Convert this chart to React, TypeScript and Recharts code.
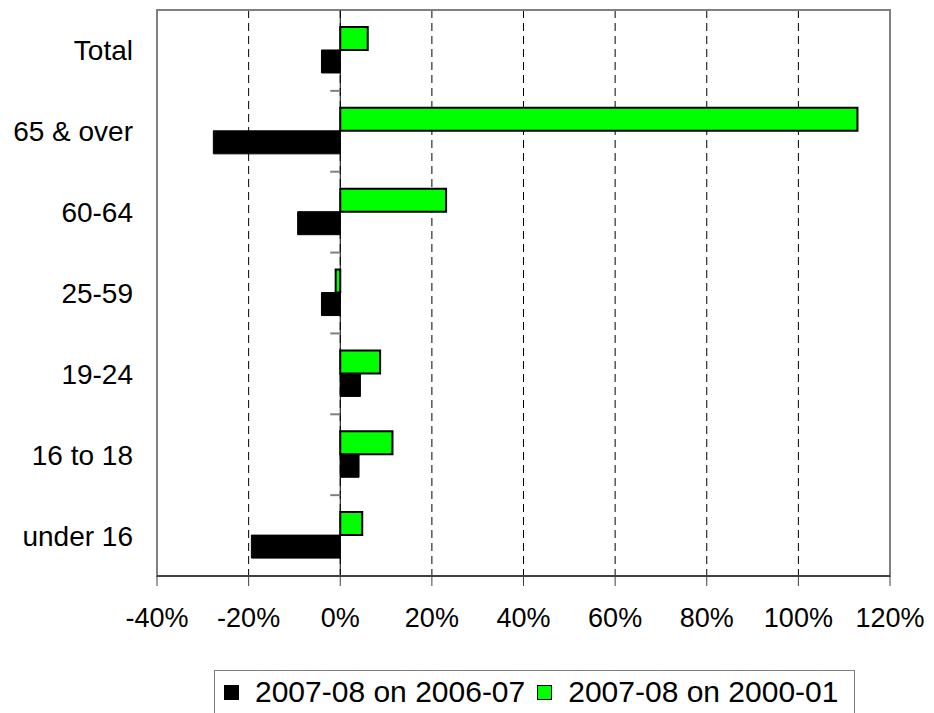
import React from 'react';
import {
  BarChart,
  Bar,
  XAxis,
  YAxis,
  CartesianGrid,
  ReferenceLine,
  ReferenceArea,
  Legend,
} from 'recharts';

// age groups, top to bottom
const categories = ['Total', '65 & over', '60-64', '25-59', '19-24', '16 to 18', 'under 16'];
// % change 2007-08 on 2006-07
const changeOnLastYear = [-4.1, -27.7, -9.3, -4.1, 4.4, 4.1, -19.4];
// % change 2007-08 on 2000-01
const changeOn2000 = [6.0, 112.9, 23.1, -1.0, 8.7, 11.4, 4.8];
const xTicks = [-40, -20, 0, 20, 40, 60, 80, 100, 120];
const seriesNames = ['2007-08 on 2006-07', '2007-08 on 2000-01'];
const seriesColors = ['#000000', '#00ff00'];

const data = categories.map((name, i) => ({
  name,
  lastYear: changeOnLastYear[i],
  since2000: changeOn2000[i],
}));

const FONT = '"Liberation Sans", Arial, sans-serif';

// zero line with category tick marks, like the Excel axis crossing at 0
const ZeroAxis = (props: any) => {
  const { x1, y1, x2, y2 } = props;
  const n = categories.length;
  const marks = Array.from({ length: n + 1 }, (_, i) => y1 + ((y2 - y1) * i) / n);
  return (
    <g>
      <line x1={x1} y1={y1} x2={x2} y2={y2} stroke="#000" strokeWidth={1} />
      {marks.map((y, i) => (
        <line key={i} x1={x1 - 10} x2={x1} y1={y} y2={y} stroke="#808080" strokeWidth={2} />
      ))}
    </g>
  );
};

const LegendBox = () => (
  <div
    style={{
      border: '1px solid #808080',
      height: 70,
      boxSizing: 'border-box',
      display: 'flex',
      alignItems: 'flex-start',
      paddingTop: 4,
      paddingLeft: 9,
      fontFamily: FONT,
      fontSize: 30,
      color: '#000',
      whiteSpace: 'nowrap',
    }}
  >
    {seriesNames.map((name, i) => (
      <div key={name} style={{ display: 'flex', alignItems: 'center', marginRight: 12 }}>
        <span
          style={{
            display: 'inline-block',
            width: 15,
            height: 15,
            background: seriesColors[i],
            border: '1px solid #000',
            boxSizing: 'border-box',
            marginRight: 16,
          }}
        />
        <span>{name}</span>
      </div>
    ))}
  </div>
);

export default function App() {
  return (
    <div style={{ position: 'absolute', left: 0, top: 0, width: 934, height: 713, overflow: 'hidden', background: '#fff' }}>
      <BarChart
        width={934}
        height={713}
        data={data}
        layout="vertical"
        margin={{ top: 10, right: 44, left: 0, bottom: 77 }}
        barCategoryGap="21%"
        barGap={0}
        style={{ fontFamily: FONT }}
      >
        <CartesianGrid horizontal={false} stroke="#000" strokeDasharray="8 5" />
        <XAxis
          type="number"
          domain={[-40, 120]}
          ticks={xTicks}
          interval={0}
          tickFormatter={(v: number) => `${v}%`}
          height={60}
          tickSize={10}
          tickMargin={22}
          tickLine={{ stroke: '#404040' }}
          axisLine={{ stroke: '#404040', strokeWidth: 2 }}
          tick={{ fill: '#000', fontSize: 27 }}
        />
        <YAxis
          type="category"
          dataKey="name"
          width={157}
          interval={0}
          axisLine={false}
          tickLine={false}
          tickMargin={18}
          tick={{ fill: '#000', fontSize: 28 }}
        />
        <ReferenceArea x1={-40} x2={120} fill="none" stroke="#808080" strokeWidth={2} />
        <Bar dataKey="since2000" fill={seriesColors[1]} stroke="#000" strokeWidth={2} isAnimationActive={false} />
        <Bar dataKey="lastYear" fill={seriesColors[0]} stroke="#000" strokeWidth={1} isAnimationActive={false} />
        <ReferenceLine x={0} shape={ZeroAxis} />
        <Legend
          layout="horizontal"
          verticalAlign="middle"
          align="center"
          content={<LegendBox />}
          wrapperStyle={{ position: 'absolute', left: 214, top: 670, width: 641, height: 70 }}
        />
      </BarChart>
    </div>
  );
}
